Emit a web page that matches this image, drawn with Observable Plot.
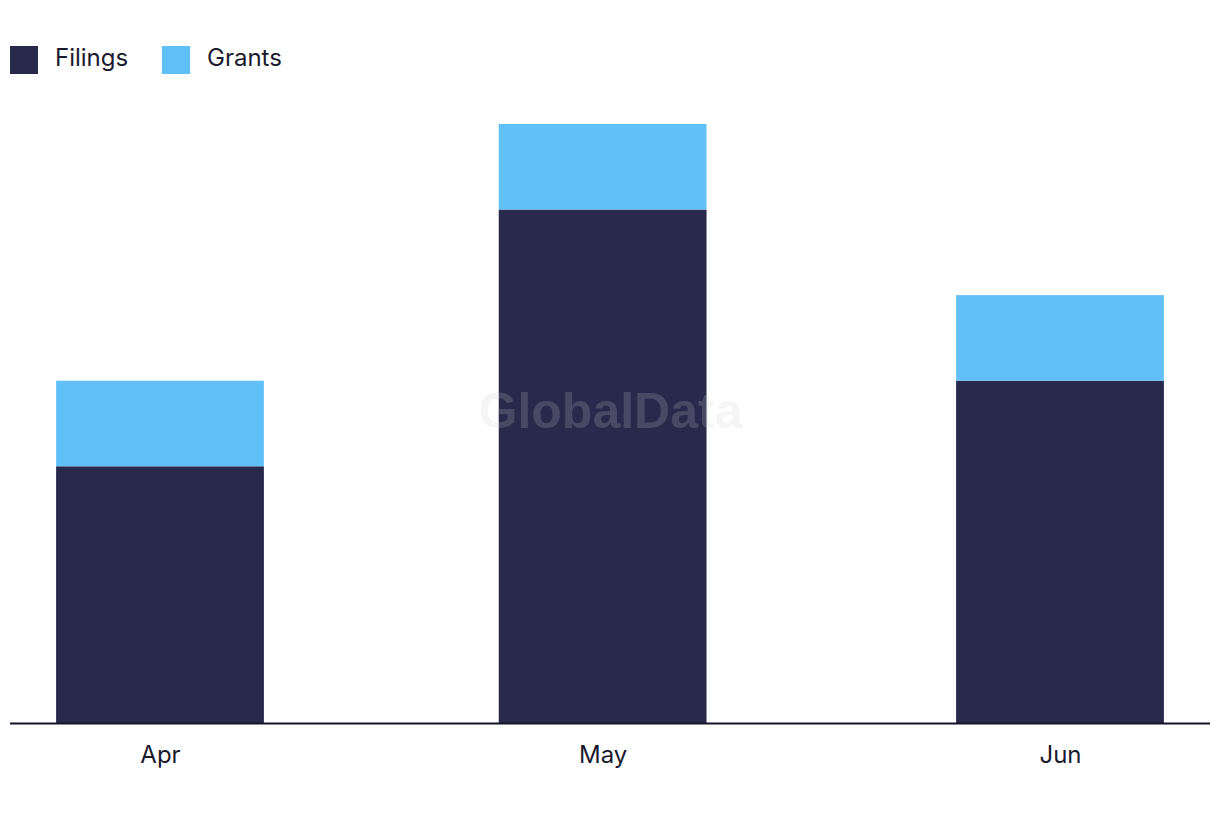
<!DOCTYPE html>
<html>
<head>
<meta charset="utf-8">
<script src="https://cdn.jsdelivr.net/npm/d3@7"></script>
<script src="https://cdn.jsdelivr.net/npm/@observablehq/plot@0.6"></script>
<style>
  html, body { margin: 0; padding: 0; background: #fff; }
  body { width: 1220px; height: 822px; overflow: hidden; font-family: Inter, "Noto Sans", sans-serif; color: #1a1a2e; }
  #legend { height: 100px; position: relative; }
  .item { position: absolute; top: 46px; display: flex; align-items: center; font-size: 24px; line-height: 28px; }
  .sw { width: 28px; height: 28px; margin-right: 17px; }
  .lbl { position: relative; top: -2px; }
  #chart svg { display: block; }
</style>
</head>
<body>
<div id="legend"></div>
<div id="chart"></div>
<script>
const months = ["2024-04-01", "2024-05-01", "2024-06-01"];
const filings = [3, 6, 4];
const grants = [1, 1, 1];
const seriesNames = ["Filings", "Grants"];
const seriesColors = ["#29294c", "#62c0f8"];
const watermark = "GlobalData";

const dates = months.map(m => new Date(m + "T00:00:00Z"));
const data = [];
dates.forEach((d, i) => data.push({date: d, series: "Filings", value: filings[i]}));
dates.forEach((d, i) => data.push({date: d, series: "Grants", value: grants[i]}));

// legend
const legend = document.getElementById("legend");
const legendX = [10, 162];
seriesNames.forEach((s, i) => {
  const it = document.createElement("div");
  it.className = "item";
  it.style.left = legendX[i] + "px";
  it.innerHTML = `<span class="sw" style="background:${seriesColors[i]}"></span><span class="lbl">${s}</span>`;
  legend.appendChild(it);
});

const half = 169; // hours, half bar width
const pad = 244;  // hours of padding on the time axis
const chart = Plot.plot({
  width: 1220,
  height: 722,
  marginLeft: 10,
  marginRight: 10,
  marginTop: 24,
  marginBottom: 99,
  style: {fontFamily: "Inter, 'Noto Sans', sans-serif", fontSize: "24px", color: "#1a1a2e", background: "#fff"},
  x: {
    type: "utc",
    domain: [d3.utcHour.offset(dates[0], -pad), d3.utcHour.offset(dates[dates.length - 1], pad)],
    ticks: dates,
    tickFormat: d3.utcFormat("%b"),
    tickSize: 0,
    tickPadding: 22,
    label: null
  },
  y: {domain: [0, 7], axis: null},
  color: {domain: seriesNames, range: seriesColors},
  marks: [
    Plot.rectY(data, {
      x1: d => d3.utcHour.offset(d.date, -half),
      x2: d => d3.utcHour.offset(d.date, half),
      y: "value",
      fill: "series"
    }),
    Plot.ruleY([0], {stroke: "#14142b", strokeWidth: 2}),
    Plot.text([watermark], {
      frameAnchor: "middle",
      dy: -12,
      fontSize: 50,
      fontWeight: "bold",
      fontFamily: "'Liberation Sans', Arial, sans-serif",
      fill: "#cecece",
      fillOpacity: 0.2
    })
  ]
});
document.getElementById("chart").appendChild(chart);
</script>
</body>
</html>
